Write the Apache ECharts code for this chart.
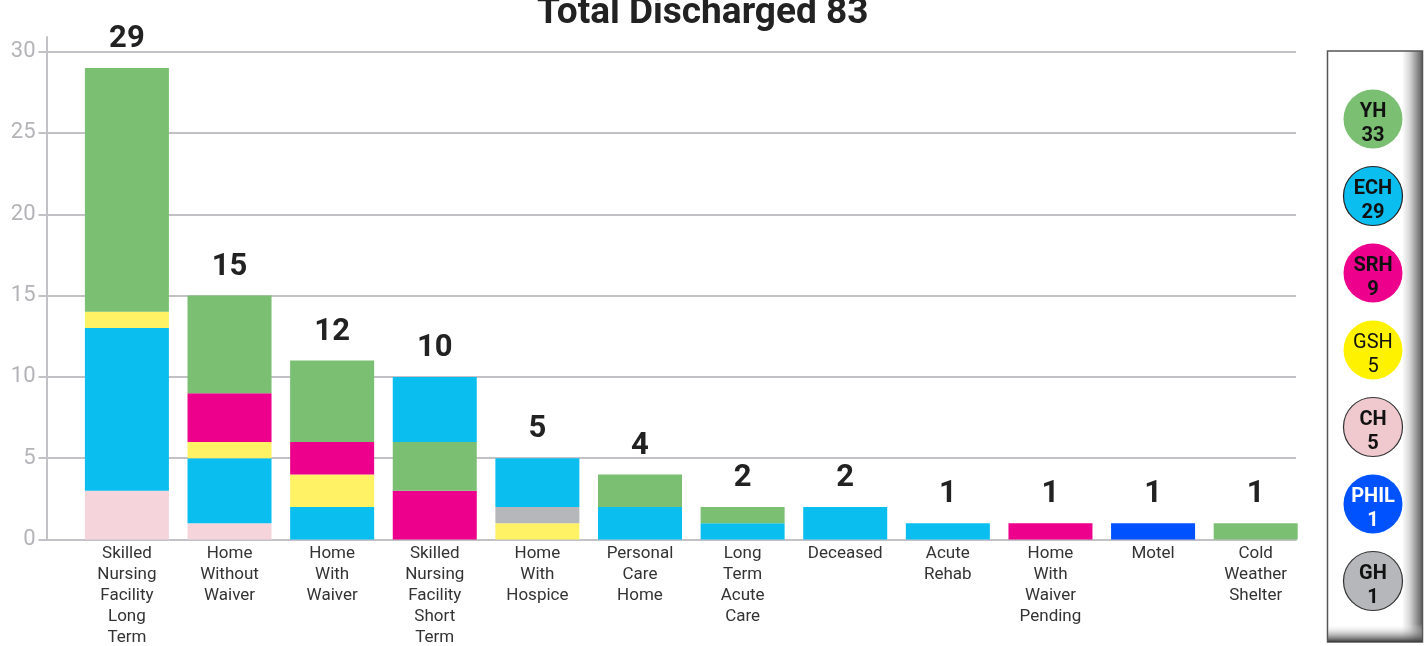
<!DOCTYPE html>
<html>
<head>
<meta charset="utf-8">
<script src="https://cdn.jsdelivr.net/npm/echarts@6/dist/echarts.min.js"></script>
<style>
html,body{margin:0;padding:0;background:#fff;}
#chart{width:1426px;height:646px;}
</style>
</head>
<body>
<div id="chart"></div>
<script>
// ---- data ----
const categories = ['Skilled Nursing Facility Long Term', 'Home Without Waiver', 'Home With Waiver',
  'Skilled Nursing Facility Short Term', 'Home With Hospice', 'Personal Care Home', 'Long Term Acute Care',
  'Deceased', 'Acute Rehab', 'Home With Waiver Pending', 'Motel', 'Cold Weather Shelter'];
const totals = [29, 15, 12, 10, 5, 4, 2, 2, 1, 1, 1, 1];
const YH   = [15, 6, 5, 3, 0, 2, 1, 0, 0, 0, 0, 1];
const ECH  = [10, 4, 2, 4, 3, 2, 1, 2, 1, 0, 0, 0];
const SRH  = [0, 3, 2, 3, 0, 0, 0, 0, 0, 1, 0, 0];
const GSH  = [1, 1, 2, 0, 1, 0, 0, 0, 0, 0, 0, 0];
const CH   = [3, 1, 0, 0, 0, 0, 0, 0, 0, 0, 0, 0];
const PHIL = [0, 0, 0, 0, 0, 0, 0, 0, 0, 0, 1, 0];
const GH   = [0, 0, 0, 0, 1, 0, 0, 0, 0, 0, 0, 0];
const defaultOrder = ['CH', 'ECH', 'GSH', 'GH', 'SRH', 'PHIL', 'YH'];
const orderOverrides = { 3: ['SRH', 'YH', 'ECH'], 4: ['GSH', 'GH', 'ECH'] };
const hospitals = ['YH', 'ECH', 'SRH', 'GSH', 'CH', 'PHIL', 'GH'];
const hospitalTotals = [33, 29, 9, 5, 5, 1, 1];
const yTicks = [0, 5, 10, 15, 20, 25, 30];
const titleText = 'Total Discharged 83';

// ---- styles ----
const values = { YH, ECH, SRH, GSH, CH, PHIL, GH };
const barColors = { YH: '#7abf72', ECH: '#0abef0', SRH: '#ec008c', GSH: '#fff265', CH: '#f5d5db', PHIL: '#0052ff', GH: '#b6b7bb' };
const legendColors = { YH: '#7abf72', ECH: '#0abef0', SRH: '#ec008c', GSH: '#fff200', CH: '#f0c9cf', PHIL: '#0052ff', GH: '#b6b7bb' };
const legendBorder = { ECH: '#222', CH: '#333', GH: '#333' };
const legendText = { PHIL: '#ffffff' };
const legendWeight = { GSH: 'normal' };
const gray = '#c2c2c6';
const yMax = 30.9;

// build layered stacked series (per-bar stacking order)
const layers = [];
categories.forEach((c, i) => {
  const order = (orderOverrides[i] || defaultOrder).filter(h => values[h][i] > 0);
  order.forEach((h, k) => {
    if (!layers[k]) layers[k] = categories.map(() => ({ value: 0 }));
    const item = { value: values[h][i], itemStyle: { color: barColors[h] } };
    if (k === order.length - 1) {
      item.label = { show: true, position: 'top', distance: 13, formatter: String(totals[i]),
        fontFamily: 'Roboto', fontWeight: 'bold', fontSize: 31, color: '#222' };
    }
    layers[k][i] = item;
  });
});
const barSeries = layers.map((data, k) => ({
  type: 'bar', stack: 'total', xAxisIndex: 1, yAxisIndex: 1, barWidth: 84,
  data, label: { show: false }, emphasis: { disabled: true }, animation: false
}));

const chart = echarts.init(document.getElementById('chart'), null, { renderer: 'canvas' });
chart.setOption({
  animation: false,
  title: {
    text: titleText, left: 532, top: -10,
    textStyle: { fontFamily: 'Roboto', fontWeight: 'bold', fontSize: 37, color: '#222' }
  },
  graphic: [
    { type: 'rect', z: 0, shape: { x: 1327.5, y: 51, width: 95, height: 591 },
      style: { fill: new echarts.graphic.LinearGradient(0, 0, 1, 0, [
        { offset: 0, color: '#ffffff' }, { offset: 0.78, color: '#ffffff' },
        { offset: 0.86, color: '#d6d6d6' }, { offset: 1, color: '#555555' }]),
        stroke: '#555', lineWidth: 1.5 } },
    { type: 'rect', z: 1, shape: { x: 1328, y: 624, width: 94, height: 18 },
      style: { fill: new echarts.graphic.LinearGradient(0, 0, 0, 1, [
        { offset: 0, color: 'rgba(255,255,255,0)' }, { offset: 1, color: '#3a3a3a' }]) } }
  ],
  grid: [
    { left: 46.5, right: 130, top: 37, bottom: 106.5, outerBoundsMode: 'none', containLabel: false },
    { left: 75.6, right: 119, top: 37, bottom: 106.5, outerBoundsMode: 'none', containLabel: false },
    { left: 1343.5, width: 59, top: 80.5, height: 539, outerBoundsMode: 'none', containLabel: false }
  ],
  xAxis: [
    { type: 'category', gridIndex: 0, data: [''],
      axisLine: { show: true, lineStyle: { color: gray, width: 2 } },
      axisTick: { show: false }, axisLabel: { show: false }, splitLine: { show: false } },
    { type: 'category', gridIndex: 1, data: categories,
      axisLine: { show: false }, axisTick: { show: false },
      axisLabel: { interval: 0, margin: 4, fontFamily: 'Roboto', fontSize: 17, lineHeight: 21, color: '#333',
        formatter: v => v.split(' ').join('\n') } },
    { type: 'value', gridIndex: 2, min: -1, max: 1, show: false }
  ],
  yAxis: [
    { type: 'value', gridIndex: 0, min: 0, max: yMax,
      axisLine: { show: true, lineStyle: { color: gray, width: 2 } },
      axisTick: { show: true, length: 8, customValues: yTicks, lineStyle: { color: gray, width: 2 } },
      axisLabel: { customValues: yTicks, margin: 11, padding: [5, 0, 0, 0], fontFamily: 'Roboto', fontSize: 22, color: '#b4b4b8' },
      splitLine: { show: true, lineStyle: { width: 2,
        color: [gray, gray, gray, gray, gray, gray, gray, 'rgba(0,0,0,0)'] } } },
    { type: 'value', gridIndex: 1, min: 0, max: yMax, show: false, splitLine: { show: false } },
    { type: 'category', gridIndex: 2, data: hospitals, inverse: true, show: false }
  ],
  series: barSeries.concat([{
    type: 'scatter', xAxisIndex: 2, yAxisIndex: 2, symbolSize: 59, z: 5,
    emphasis: { disabled: true },
    itemStyle: { opacity: 1 },
    data: hospitals.map((h, i) => ({
      value: [0, h],
      itemStyle: { opacity: 1, color: legendColors[h], borderColor: legendBorder[h] || legendColors[h], borderWidth: legendBorder[h] ? 1.2 : 0 },
      label: { color: legendText[h] || '#111', fontWeight: legendWeight[h] || 'bold' }
    })),
    label: { show: true, position: 'inside', offset: [0, 5], fontFamily: 'Roboto', fontSize: 20, lineHeight: 24,
      formatter: p => hospitals[p.dataIndex] + '\n' + hospitalTotals[p.dataIndex] }
  }])
});
</script>
</body>
</html>
